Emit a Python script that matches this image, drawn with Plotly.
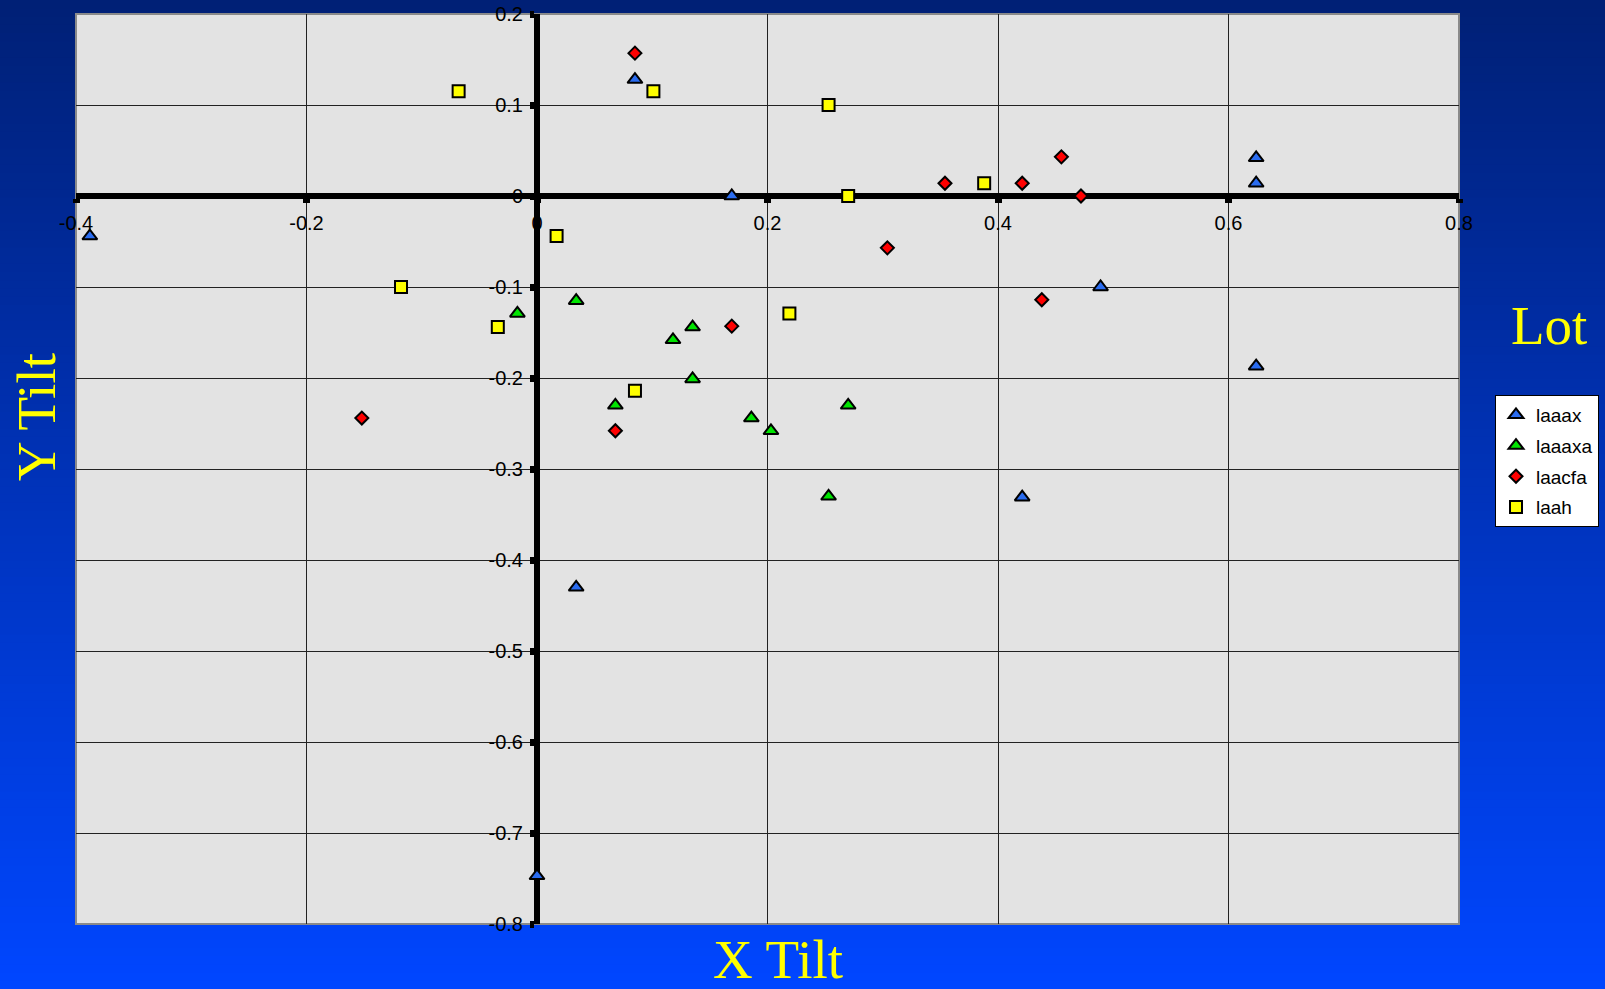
import plotly.graph_objects as go

# ---- data: X / Y tilt per lot ----
laaax_x = [-0.388, 0.085, 0.169, 0.624, 0.624, 0.489, 0.624, 0.421, 0.034, 0.0]
laaax_y = [-0.044, 0.128, 0.0, 0.042, 0.014, -0.100, -0.187, -0.331, -0.430, -0.747]

laaaxa_x = [-0.017, 0.034, 0.068, 0.118, 0.135, 0.135, 0.186, 0.203, 0.270, 0.253]
laaaxa_y = [-0.129, -0.115, -0.230, -0.158, -0.144, -0.201, -0.244, -0.258, -0.230, -0.330]

laacfa_x = [0.085, -0.152, 0.068, 0.169, 0.304, 0.354, 0.421, 0.455, 0.472, 0.438]
laacfa_y = [0.157, -0.244, -0.258, -0.143, -0.057, 0.014, 0.014, 0.043, 0.0, -0.114]

laah_x = [-0.068, 0.101, 0.253, -0.118, -0.034, 0.017, 0.085, 0.219, 0.270, 0.388]
laah_y = [0.115, 0.115, 0.100, -0.100, -0.144, -0.044, -0.214, -0.129, 0.0, 0.014]

x_tick_vals = [-0.4, -0.2, 0.0, 0.2, 0.4, 0.6, 0.8]
x_tick_text = ["-0.4", "-0.2", "0", "0.2", "0.4", "0.6", "0.8"]
y_tick_vals = [0.2, 0.1, 0.0, -0.1, -0.2, -0.3, -0.4, -0.5, -0.6, -0.7, -0.8]
y_tick_text = ["0.2", "0.1", "0", "-0.1", "-0.2", "-0.3", "-0.4", "-0.5", "-0.6", "-0.7", "-0.8"]

# ---- page geometry ----
W, H = 1605, 989
ML, MR, MT, MB = 76, 146, 14, 65
PW, PH = W - ML - MR, H - MT - MB
X_RANGE = [-0.4, 0.8]
Y_RANGE = [-0.8, 0.2]

fig = go.Figure()

series = [
    ("laaax", laaax_x, laaax_y, "triangle-up", "#2a6cf0", 13),
    ("laaaxa", laaaxa_x, laaaxa_y, "triangle-up", "#00e400", 13),
    ("laacfa", laacfa_x, laacfa_y, "diamond", "#ff0000", 10),
    ("laah", laah_x, laah_y, "square", "#ffff00", 12),
]
for name, xs, ys, sym, col, sz in series:
    fig.add_trace(go.Scatter(
        x=xs, y=ys, mode="markers", name=name, legendgroup=name,
        marker=dict(symbol=sym, size=sz, color=col,
                    line=dict(color="black", width=2)),
        cliponaxis=False,
    ))

# vertical blue gradient behind everything
shapes = []
y_lo = -MB / PH
y_hi = 1 + MT / PH
x_lo = -ML / PW
x_hi = 1 + MR / PW
top_rgb = (0, 32, 118)
bot_rgb = (0, 70, 255)
n = 120
for i in range(n):
    t = i / (n - 1)
    r = round(top_rgb[0] + (bot_rgb[0] - top_rgb[0]) * t)
    g = round(top_rgb[1] + (bot_rgb[1] - top_rgb[1]) * t)
    b = round(top_rgb[2] + (bot_rgb[2] - top_rgb[2]) * t)
    y1 = y_hi - (y_hi - y_lo) * i / n
    y0 = y_hi - (y_hi - y_lo) * (i + 1) / n - 0.002
    shapes.append(dict(type="rect", xref="paper", yref="paper", layer="below",
                       x0=x_lo, x1=x_hi, y0=y0, y1=y1,
                       fillcolor=f"rgb({r},{g},{b})", line=dict(width=0)))
# plot area panel with grey frame
shapes.append(dict(type="rect", xref="paper", yref="paper", layer="below",
                   x0=0, x1=1, y0=0, y1=1, fillcolor="#e3e3e3",
                   line=dict(color="#8a8a8a", width=2)))

tick_font = dict(family="Liberation Sans, Arial, sans-serif", size=20, color="black")
title_font = dict(family="Liberation Serif, Times New Roman, serif", size=55, color="#ffff00")

fig.update_layout(
    width=W, height=H,
    margin=dict(l=ML, r=MR, t=MT, b=MB, pad=0, autoexpand=False),
    paper_bgcolor="#0035c8",
    plot_bgcolor="#e3e3e3",
    shapes=shapes,
    showlegend=True,
    legend=dict(
        x=(1495 - ML) / PW, y=(H - MB - 395) / PH, xanchor="left", yanchor="top",
        bgcolor="white", bordercolor="black", borderwidth=1,
        font=dict(family="Liberation Sans, Arial, sans-serif", size=19, color="black"),
        tracegroupgap=3, itemwidth=30,
    ),
    xaxis=dict(
        range=X_RANGE, anchor="free", position=0.8,
        tickvals=x_tick_vals, ticktext=x_tick_text,
        showline=True, linecolor="black", linewidth=6,
        ticks="outside", ticklen=4, tickwidth=7, tickcolor="black",
        ticklabelstandoff=3,
        showgrid=True, gridcolor="#222222", gridwidth=1,
        zeroline=False, tickfont=tick_font, layer="below traces",
        automargin=False, fixedrange=True,
    ),
    yaxis=dict(
        range=Y_RANGE, anchor="free", position=1 / 3,
        tickvals=y_tick_vals, ticktext=y_tick_text,
        showline=True, linecolor="black", linewidth=6,
        ticks="outside", ticklen=4, tickwidth=7, tickcolor="black",
        ticklabelstandoff=3,
        showgrid=True, gridcolor="#222222", gridwidth=1,
        zeroline=False, tickfont=tick_font, layer="below traces",
        automargin=False, fixedrange=True,
    ),
    annotations=[
        dict(text="X Tilt", xref="paper", yref="paper",
             x=(778 - ML) / PW, y=-MB / PH, yshift=-3,
             xanchor="center", yanchor="bottom", showarrow=False, font=title_font),
        dict(text="Y Tilt", xref="paper", yref="paper",
             x=(36 - ML) / PW, y=(H - MB - 417) / PH, textangle=-90,
             xanchor="center", yanchor="middle", showarrow=False, font=title_font),
        dict(text="Lot", xref="paper", yref="paper",
             x=(1549 - ML) / PW, y=(H - MB - 325) / PH,
             xanchor="center", yanchor="middle", showarrow=False, font=title_font),
    ],
)

fig.write_html("out.html")
